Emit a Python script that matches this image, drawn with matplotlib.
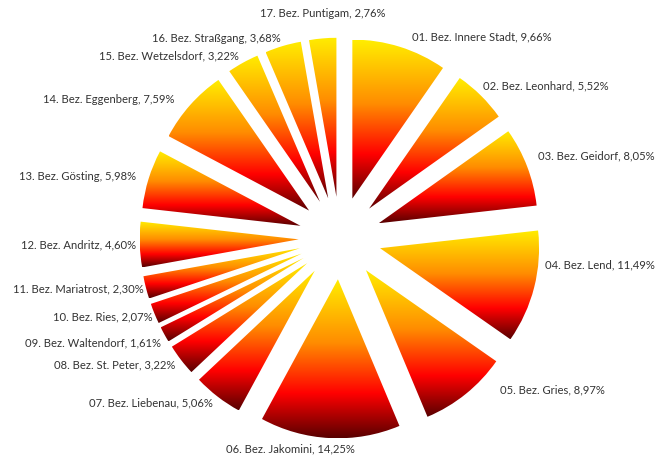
import numpy as np
import matplotlib.pyplot as plt
from matplotlib.colors import LinearSegmentedColormap

bezirke = ['01. Bez. Innere Stadt', '02. Bez. Leonhard', '03. Bez. Geidorf', '04. Bez. Lend',
           '05. Bez. Gries', '06. Bez. Jakomini', '07. Bez. Liebenau', '08. Bez. St. Peter',
           '09. Bez. Waltendorf', '10. Bez. Ries', '11. Bez. Mariatrost', '12. Bez. Andritz',
           '13. Bez. Gösting', '14. Bez. Eggenberg', '15. Bez. Wetzelsdorf', '16. Bez. Straßgang',
           '17. Bez. Puntigam']
anteile = [9.66, 5.52, 8.05, 11.49, 8.97, 14.25, 5.06, 3.22, 1.61, 2.07, 2.30, 4.60,
           5.98, 7.59, 3.22, 3.68, 2.76]

# Feuer-Verlauf: gelb oben, dunkelrot unten
fire = LinearSegmentedColormap.from_list('fire', [
    (0.0, (1.0, 0.93, 0.0)),
    (0.4, (1.0, 0.55, 0.0)),
    (0.72, (1.0, 0.0, 0.0)),
    (1.0, (0.35, 0.0, 0.0)),
])

W, H = 658, 457
px = 159.0          # Pixel pro Radius
cx, cy = 340, 238   # Mittelpunkt in Pixel

fig = plt.figure(figsize=(W / 100, H / 100), dpi=100)
ax = fig.add_axes([0, 0, 1, 1])

wedges, _ = ax.pie(anteile, startangle=90, counterclock=False,
                   explode=[0.26] * len(anteile), radius=1,
                   wedgeprops=dict(linewidth=0))

grad = np.linspace(0, 1, 256).reshape(-1, 1)
for w in wedges:
    w.set_facecolor('none')
    bb = w.get_path().get_extents()
    im = ax.imshow(grad, extent=(bb.x0, bb.x1, bb.y0, bb.y1), origin='upper',
                   cmap=fire, aspect='auto', interpolation='bilinear', zorder=1)
    im.set_clip_path(w)

# Beschriftungen aussen, einige verschoben (dx, dy in Pixel, ha)
shift = {0: (10, 3, None), 1: (-3, 4, None), 2: (4, 8, None),
         3: (3, 24, None), 4: (29, 10, None), 5: (-39, -3, 'center'),
         8: (3, -5, None), 9: (5, 0, None), 10: (5, 0, None), 11: (4, 0, None),
         12: (-5, 0, None), 13: (-10, 0, None), 16: (1, 17, 'center')}
r_lab = 208 / px
for i, w in enumerate(wedges):
    mid = np.deg2rad((w.theta1 + w.theta2) / 2)
    x, y = r_lab * np.cos(mid), r_lab * np.sin(mid)
    ha = 'left' if np.cos(mid) > 0 else 'right'
    dx, dy, h = shift.get(i, (0, 0, None))
    if h:
        ha = h
    txt = f"{bezirke[i]}, " + f"{anteile[i]:.2f}%".replace('.', ',')
    ax.text(x + dx / px, y + dy / px, txt, ha=ha, va='center',
            fontsize=8.1, family='Lato', color='#333333')

ax.set_xlim(-cx / px, (W - cx) / px)
ax.set_ylim(-(H - cy) / px, cy / px)
ax.set_aspect('auto')
ax.axis('off')

fig.savefig('out.png', dpi=100)
